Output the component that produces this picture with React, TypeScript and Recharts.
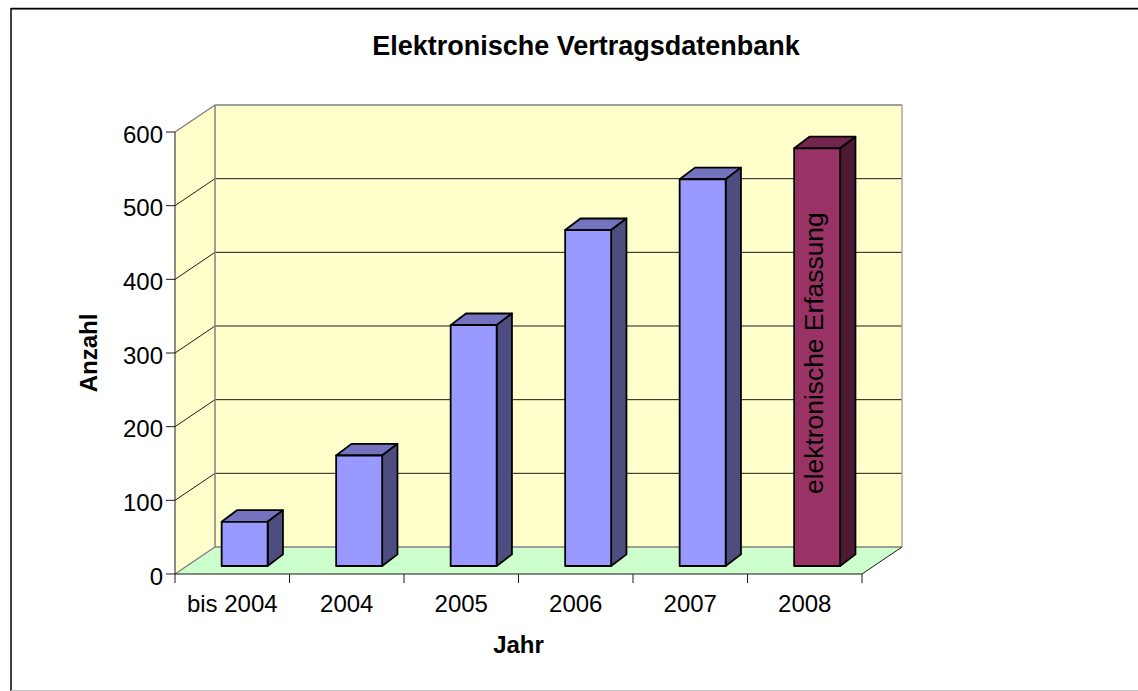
import React from "react";
import { BarChart, Bar, XAxis, YAxis, usePlotArea, LabelList } from "recharts";

const categories = ["bis 2004", "2004", "2005", "2006", "2007", "2008"];
const counts = [60, 150, 327, 456, 525, 567];
const yTicks = [0, 100, 200, 300, 400, 500, 600];
const barNotes = ["", "", "", "", "", "elektronische Erfassung"];
const highlighted = ["2008"];

const rows = categories.map((category, i) => ({ category, count: counts[i], note: barNotes[i] }));

const FONT = '"Liberation Sans", Arial, sans-serif';
const W = 1138, H = 691;
const DEPTH_X = 40, DEPTH_Y = 27;      // wall depth
const BAR_SHIFT_X = 12.3, BAR_SHIFT_Y = 8; // bar plane vs. front plane
const BAR_DX = 15.3, BAR_DY = 11.6;     // bar depth
const Y_MAX = 600;

function Walls() {
  const p = usePlotArea();
  if (!p) return null;
  const { x: l, y: t, width: w, height: h } = p;
  const r = l + w, b = t + h;
  const grey = "#808080";
  return (
    <g>
      <polygon points={`${l},${t} ${l + DEPTH_X},${t - DEPTH_Y} ${l + DEPTH_X},${b - DEPTH_Y} ${l},${b}`} fill="#FFFFCC" />
      <rect x={l + DEPTH_X} y={t - DEPTH_Y} width={w} height={h} fill="#FFFFCC" />
      <polygon points={`${l},${b} ${l + DEPTH_X},${b - DEPTH_Y} ${r + DEPTH_X},${b - DEPTH_Y} ${r},${b}`} fill="#CCFFCC" />
      {yTicks.slice(1, -1).map((v) => {
        const y = b - (v / Y_MAX) * h;
        return (
          <g key={v} stroke="#1a1a1a" strokeWidth={1}>
            <line x1={l} y1={y} x2={l + DEPTH_X} y2={y - DEPTH_Y} />
            <line x1={l + DEPTH_X} y1={y - DEPTH_Y} x2={r + DEPTH_X} y2={y - DEPTH_Y} />
          </g>
        );
      })}
      <g stroke={grey} strokeWidth={1.5} fill="none">
        <line x1={l} y1={t} x2={l + DEPTH_X} y2={t - DEPTH_Y} />
        <line x1={l} y1={b} x2={l + DEPTH_X} y2={b - DEPTH_Y} />
        <line x1={l + DEPTH_X} y1={t - DEPTH_Y} x2={l + DEPTH_X} y2={b - DEPTH_Y} />
        <line x1={l + DEPTH_X} y1={t - DEPTH_Y} x2={r + DEPTH_X} y2={t - DEPTH_Y} />
        <line x1={l + DEPTH_X} y1={b - DEPTH_Y} x2={r + DEPTH_X} y2={b - DEPTH_Y} />
        <line x1={r + DEPTH_X} y1={t - DEPTH_Y} x2={r + DEPTH_X} y2={b - DEPTH_Y} stroke="#a6a6a6" />
      </g>
      <g stroke="#1a1a1a" strokeWidth={1}>
        <line x1={l} y1={t} x2={l} y2={b} />
        <line x1={l} y1={b} x2={r} y2={b} />
        <line x1={r} y1={b} x2={r + DEPTH_X} y2={b - DEPTH_Y} />
      </g>
    </g>
  );
}

function Frame() {
  return (
    <g>
      <line x1={11} y1={9.5} x2={W} y2={9.5} stroke="#999" strokeWidth={1} />
      <line x1={11} y1={8.5} x2={W} y2={8.5} stroke="#000" strokeWidth={1.5} />
      <line x1={11} y1={8} x2={11} y2={H} stroke="#000" strokeWidth={1.5} />
      <line x1={11} y1={690.5} x2={W} y2={690.5} stroke="#c0c0c0" strokeWidth={1} />
    </g>
  );
}

function Bar3D(props: any) {
  const { x, y, width, height, payload } = props;
  const on = highlighted.includes(payload.category);
  const front = on ? "#993366" : "#9999FF";
  const top = on ? "#73264D" : "#7373BF";
  const side = on ? "#4D1A33" : "#4D4D80";
  const fx = x + BAR_SHIFT_X, fy = y - BAR_SHIFT_Y;
  const fr = fx + width, fb = fy + height;
  return (
    <g stroke="#000" strokeWidth={1.8} strokeLinejoin="round">
      <polygon points={`${fx},${fy} ${fx + BAR_DX},${fy - BAR_DY} ${fr + BAR_DX},${fy - BAR_DY} ${fr},${fy}`} fill={top} />
      <polygon points={`${fr},${fy} ${fr + BAR_DX},${fy - BAR_DY} ${fr + BAR_DX},${fb - BAR_DY} ${fr},${fb}`} fill={side} />
      <rect x={fx} y={fy} width={width} height={height} fill={front} />
    </g>
  );
}

function CategoryTick(props: any) {
  const { x, y, payload, index, visibleTicksCount } = props;
  const band = 687 / categories.length;
  const last = index === visibleTicksCount - 1;
  return (
    <g>
      <line x1={x - band / 2} y1={y - 8} x2={x - band / 2} y2={y + 1} stroke="#1a1a1a" />
      {last && <line x1={x + band / 2} y1={y - 8} x2={x + band / 2} y2={y + 1} stroke="#1a1a1a" />}
      <text x={x} y={y + 30} textAnchor="middle" fontFamily={FONT} fontSize={24} fill="#000">
        {payload.value}
      </text>
    </g>
  );
}

function NoteLabel(props: any) {
  const { x, y, width, height, value } = props;
  if (!value) return null;
  const cx = x + width / 2 + BAR_SHIFT_X + 5.5;
  const cy = y + height / 2 - BAR_SHIFT_Y - 4;
  return (
    <text transform={`translate(${cx},${cy}) rotate(-90)`} textAnchor="middle" fontFamily={FONT} fontSize={26.4} fill="#000">
      {value}
    </text>
  );
}

export default function App() {
  return (
    <div style={{ position: "absolute", left: 0, top: 0, width: W, height: H, background: "#fff" }}>
      <BarChart
        width={W}
        height={H}
        data={rows}
        margin={{ left: 115, top: 132, right: 276, bottom: 57 }}
        barCategoryGap="30%"
      >
        <Frame />
        <text x={586} y={55} textAnchor="middle" fontFamily={FONT} fontWeight="bold" fontSize={27} fill="#000">
          Elektronische Vertragsdatenbank
        </text>
        <Walls />
        <XAxis
          dataKey="category"
          height={60}
          axisLine={false}
          tickLine={false}
          interval={0}
          tick={<CategoryTick />}
          label={{ value: "Jahr", position: "insideBottom", offset: -19, fontFamily: FONT, fontWeight: "bold", fontSize: 24, fill: "#000" }}
        />
        <YAxis
          width={60}
          domain={[0, Y_MAX]}
          ticks={yTicks}
          interval={0}
          axisLine={false}
          tickLine={{ stroke: "#1a1a1a" }}
          tickSize={9}
          tickMargin={3}
          tick={{ fontFamily: FONT, fontSize: 24, fill: "#000", dy: 2 }}
          label={{ value: "Anzahl", angle: -90, position: "insideLeft", dx: -32, textAnchor: "middle", fontFamily: FONT, fontWeight: "bold", fontSize: 24, fill: "#000" }}
        />
        <Bar dataKey="count" isAnimationActive={false} shape={<Bar3D />}>
          <LabelList dataKey="note" content={<NoteLabel />} />
        </Bar>
      </BarChart>
    </div>
  );
}
